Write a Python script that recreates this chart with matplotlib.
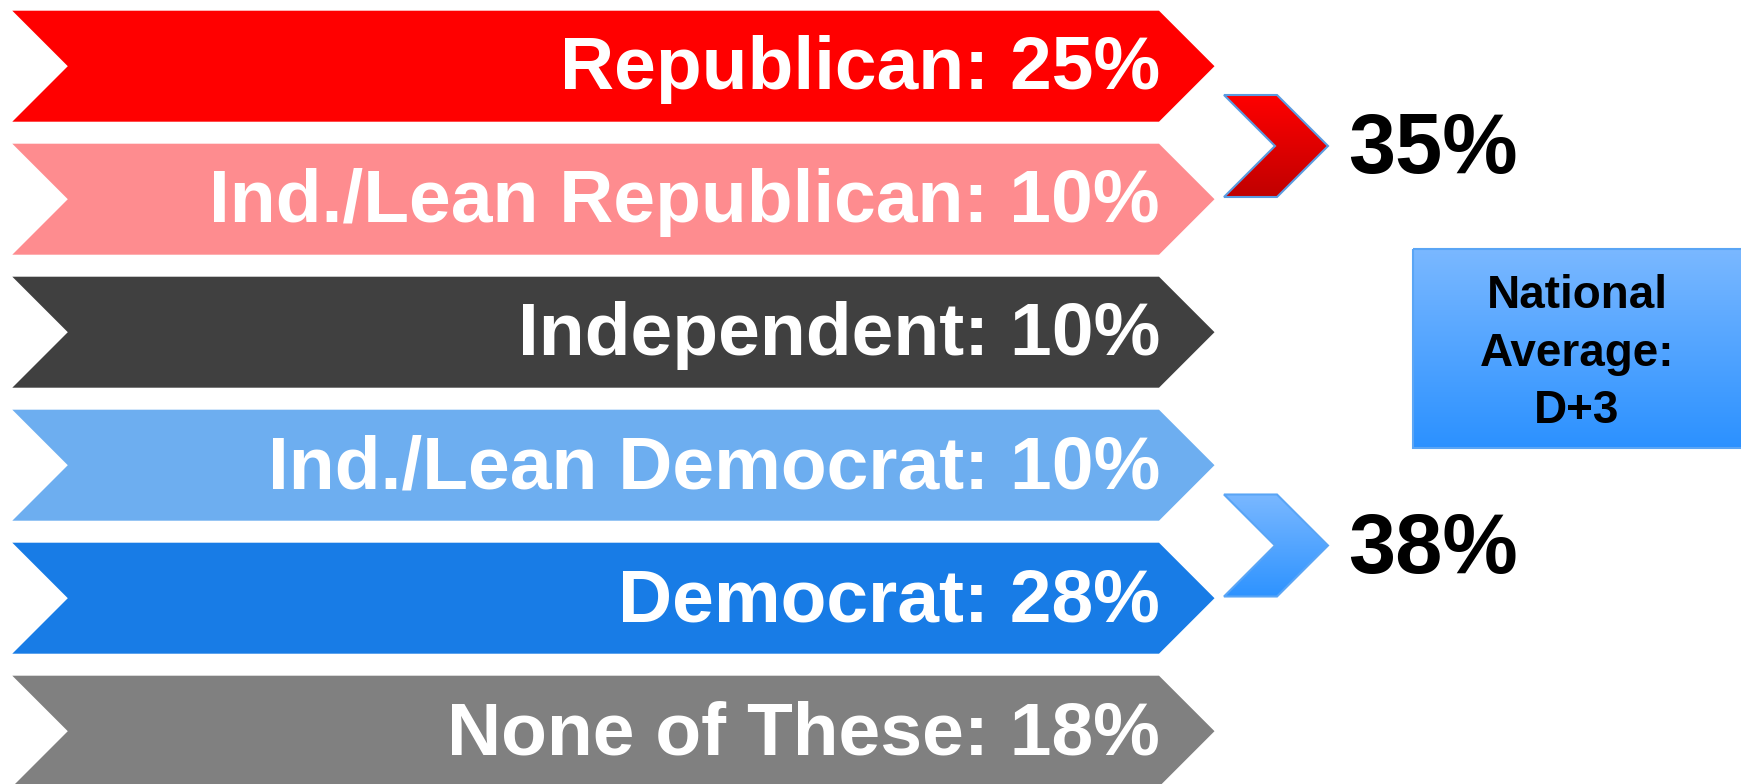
import matplotlib.pyplot as plt
import numpy as np
from matplotlib.patches import Polygon, Rectangle
from matplotlib.colors import LinearSegmentedColormap

plt.rcParams['font.family'] = ['Liberation Sans', 'DejaVu Sans']

# party identification shares
categories = ['Republican', 'Ind./Lean Republican', 'Independent',
              'Ind./Lean Democrat', 'Democrat', 'None of These']
shares = [25, 10, 10, 10, 28, 18]
colors = ['#ff0000', '#fe8c8f', '#404040', '#6daef0', '#187ce6', '#808080']

rep_total = shares[0] + shares[1]
dem_total = shares[3] + shares[4]
margin = dem_total - rep_total

W, H = 1741, 784
fig = plt.figure(figsize=(W / 100, H / 100), dpi=100)
ax = fig.add_axes([0, 0, 1, 1])
ax.set_xlim(0, W)
ax.set_ylim(H, 0)
ax.axis('off')


def chevron(x0, x1, top, h, notch):
    """Band with a notch on the left and a point on the right."""
    mid = top + h / 2
    return [(x0, top), (x1, top), (x1 + notch, mid), (x1, top + h),
            (x0, top + h), (x0 + notch, mid)]


def gradient_patch(pts, c_top, c_bot, edge, lw=1.5):
    poly = Polygon(pts, closed=True, facecolor='none', edgecolor=edge, lw=lw, zorder=3)
    ax.add_patch(poly)
    xs = [p[0] for p in pts]
    ys = [p[1] for p in pts]
    cmap = LinearSegmentedColormap.from_list('g', [c_top, c_bot])
    grad = np.linspace(0, 1, 256).reshape(-1, 1)
    im = ax.imshow(grad, cmap=cmap, aspect='auto', zorder=2,
                   extent=(min(xs), max(xs), max(ys), min(ys)))
    im.set_clip_path(poly)


# main bands
band_h = 111
pitch = 133
top0 = 10.7
for i, (cat, val, col) in enumerate(zip(categories, shares, colors)):
    top = top0 + i * pitch
    ax.add_patch(Polygon(chevron(12.3, 1159, top, band_h, band_h / 2),
                         closed=True, facecolor=col, edgecolor='none'))
    ax.text(1160, top + band_h / 2 + 23, f'{cat}: {val}%', color='white',
            fontsize=54, fontweight='bold', ha='right', va='baseline')

# combined totals
small_h = 102
for total, top, c_top, c_bot, edge in [
        (rep_total, 95, '#ff0000', '#c00000', '#5a9be0'),
        (dem_total, 494.5, '#7ab8ff', '#2e93ff', '#5aa5f5')]:
    gradient_patch(chevron(1224, 1277, top, small_h, small_h / 2), c_top, c_bot, edge)
    ax.text(1348, top + small_h / 2 + 27, f'{total}%', color='black',
            fontsize=61, fontweight='bold', ha='left', va='baseline')

# national average box
bx0, bx1, by0, by1 = 1413, 1745, 249, 448
gradient_patch([(bx0, by0), (bx1, by0), (bx1, by1), (bx0, by1)],
               '#7ab8ff', '#2b91ff', '#5aa5f5')
lines = ['National', 'Average:', f'D+{margin}']
for k, line in enumerate(lines):
    ax.text((bx0 + 1741) / 2, 308 + k * 57.5, line, color='black',
            fontsize=33, fontweight='bold', ha='center', va='baseline')

fig.savefig('out.png', dpi=100)
